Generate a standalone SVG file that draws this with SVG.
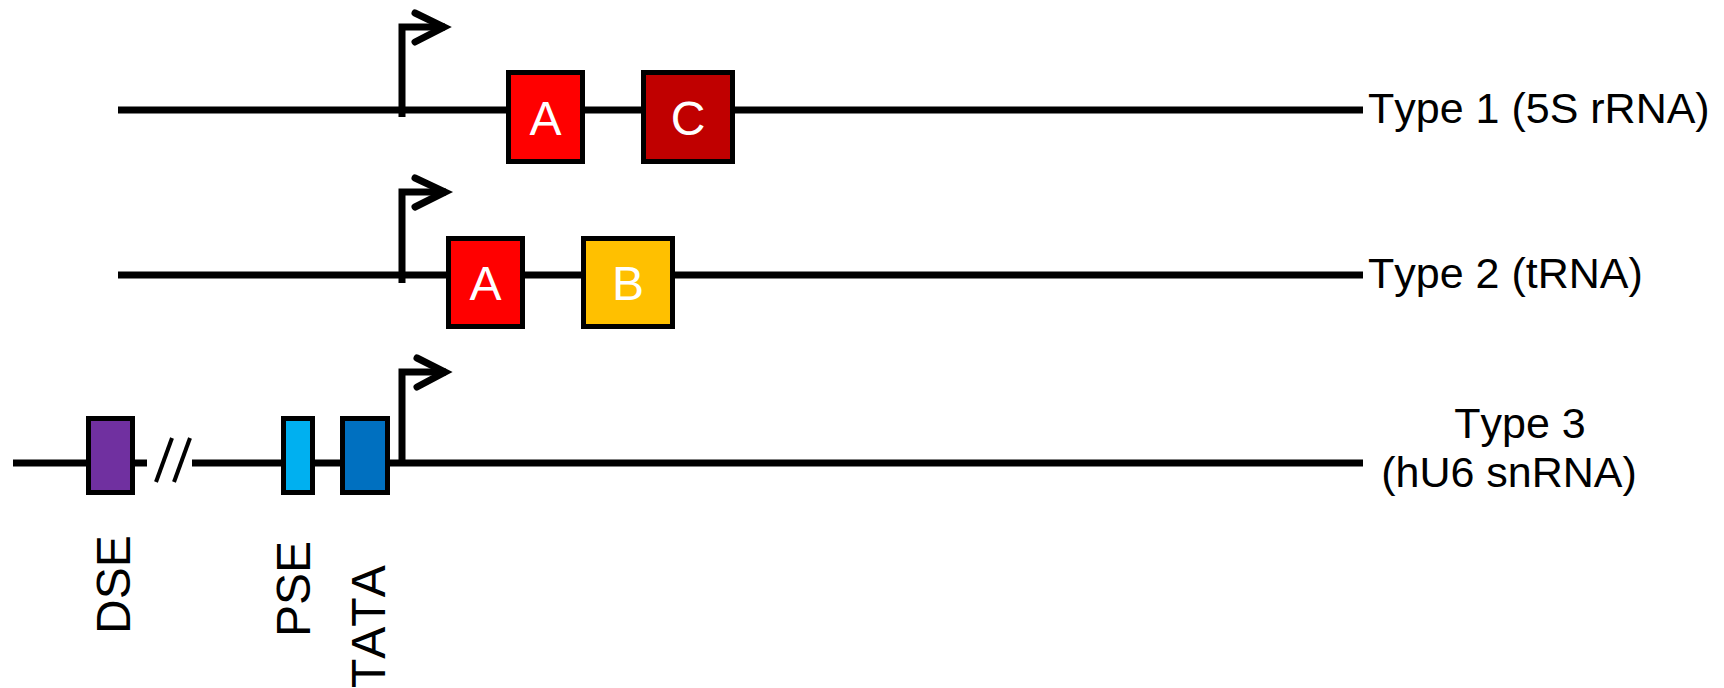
<svg xmlns="http://www.w3.org/2000/svg" width="1724" height="688" viewBox="0 0 1724 688">
<style>
text{font-kerning:none}
.dna{stroke:#000;stroke-width:7;fill:none}
.box{stroke:#000;stroke-width:5}
.prom{stroke:#000;stroke-width:7;fill:none;stroke-linejoin:miter}
.chev{stroke:#000;stroke-width:7;fill:none;stroke-linecap:round;stroke-linejoin:miter}
.bt{font-family:"Liberation Sans",Arial,sans-serif;font-size:48px;fill:#fff;text-anchor:middle}
.lbl{font-family:"Liberation Sans",Arial,sans-serif;font-size:43px;fill:#000}
.vl{font-family:"Liberation Sans",Arial,sans-serif;font-size:48px;fill:#000}
</style>
<rect width="1724" height="688" fill="#fff"/>
<g id="connectors">
  <line class="dna" x1="118" y1="110" x2="1363" y2="110"/>
  <line class="dna" x1="118" y1="275" x2="1363" y2="275"/>
  <line class="dna" x1="13" y1="463" x2="147" y2="463"/>
  <line class="dna" x1="192" y1="463" x2="1363" y2="463"/>
  <g id="breaks">
    <line x1="172" y1="438" x2="156" y2="482" stroke="#000" stroke-width="4"/>
    <line x1="190" y1="438" x2="174" y2="482" stroke="#000" stroke-width="4"/>
  </g>
</g>
<g id="promoter1">
  <polyline class="prom" points="402,117 402,27 445,27"/>
  <polyline class="chev" points="415,13 444,27 415,42"/>
</g>
<g id="promoter2">
  <polyline class="prom" points="402,283 402,192 446,192"/>
  <polyline class="chev" points="415,178 445,192 415,207"/>
</g>
<g id="promoter3">
  <polyline class="prom" points="402,463 402,372 446,372"/>
  <polyline class="chev" points="417,358 445,372 417,387"/>
</g>
<g id="boxA1">
  <rect class="box" x="508.5" y="72.5" width="74" height="89" fill="#FF0000"/>
  <text class="bt" x="545.5" y="135">A</text>
</g>
<g id="boxC1">
  <rect class="box" x="643.5" y="72.5" width="89" height="89" fill="#C00000"/>
  <text class="bt" x="688" y="135">C</text>
</g>
<g id="boxA2">
  <rect class="box" x="448.5" y="238.5" width="74" height="88" fill="#FF0000"/>
  <text class="bt" x="485.5" y="300">A</text>
</g>
<g id="boxB2">
  <rect class="box" x="583.5" y="238.5" width="89" height="88" fill="#FFC000"/>
  <text class="bt" x="628" y="300">B</text>
</g>
<g id="DSE">
  <rect class="box" x="88.5" y="418.5" width="44" height="74" fill="#7030A0"/>
  <text class="vl" transform="translate(130,634) rotate(-90)">DSE</text>
</g>
<g id="PSE">
  <rect class="box" x="283.5" y="418.5" width="29" height="74" fill="#00B0F0"/>
  <text class="vl" transform="translate(310,637) rotate(-90)">PSE</text>
</g>
<g id="TATA">
  <rect class="box" x="342.5" y="418.5" width="45" height="74" fill="#0070C0"/>
  <text class="vl" transform="translate(385,688) rotate(-90)">TATA</text>
</g>
<g id="label1">
  <text class="lbl" x="1368" y="123">Type 1 (5S rRNA)</text>
</g>
<g id="label2">
  <text class="lbl" x="1368" y="288">Type 2 (tRNA)</text>
</g>
<g id="label3">
  <text class="lbl" x="1520" y="438" text-anchor="middle">Type 3</text>
  <text class="lbl" x="1509" y="487" text-anchor="middle">(hU6 snRNA)</text>
</g>
</svg>
